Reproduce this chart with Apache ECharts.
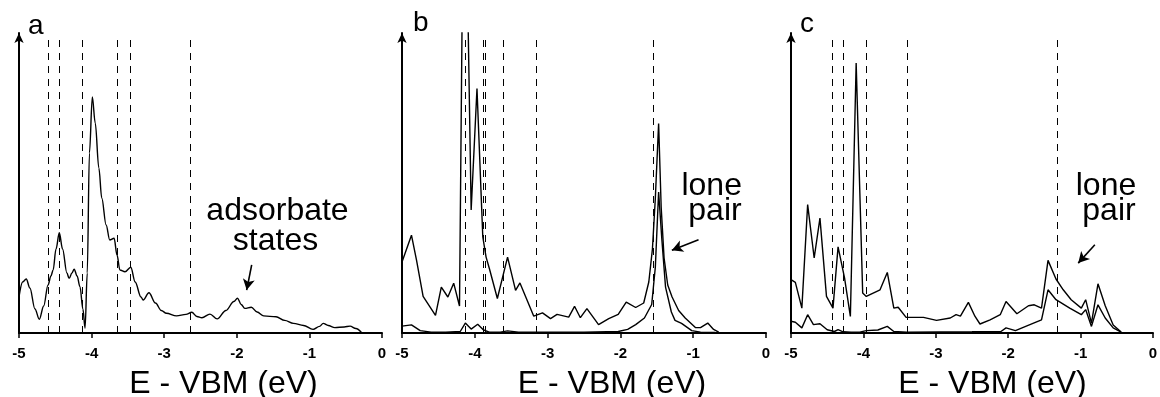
<!DOCTYPE html>
<html><head><meta charset="utf-8">
<script src="https://cdn.jsdelivr.net/npm/echarts@6/dist/echarts.min.js"></script>
<style>html,body{margin:0;padding:0;background:#fff}#c{width:1160px;height:397px}</style>
</head><body><div id="c"></div>
<script>
// ---- data ----
const panelLabels = ['a', 'b', 'c'];
const axisTitle = 'E - VBM (eV)';
const xTickValues = [-5, -4, -3, -2, -1, 0];
const xTickLabels = ['-5', '-4', '-3', '-2', '-1', '0'];

// panel a: single PDOS curve
const aX = [-5.00,-4.95,-4.90,-4.85,-4.78,-4.72,-4.66,-4.60,-4.56,-4.53,-4.49,-4.445,-4.40,-4.34,-4.31,-4.27,-4.24,-4.20,-4.16,-4.12,-4.09,-4.06,-4.03,-3.99,-3.95,-3.90,-3.86,-3.80,-3.75,-3.69,-3.65,-3.61,-3.54,-3.46,-3.40,-3.32,-3.29,-3.21,-3.12,-3.04,-2.97,-2.83,-2.70,-2.62,-2.55,-2.48,-2.37,-2.27,-2.15,-2.04,-1.99,-1.94,-1.89,-1.80,-1.72,-1.63,-1.46,-1.34,-1.22,-1.08,-0.95,-0.86,-0.81,-0.74,-0.65,-0.52,-0.44,-0.36,-0.28];
const aY = [12,17,18,15,8,4.6,9,16,19,21,28,33.4,28,20,18.2,20,21.3,19,15.4,8,1.6,20,60,78.7,70,55,45,36,31,31.6,26,21,20.4,21.9,17,12,11,13.4,10,7.5,6.6,5.7,6.2,6.9,5.5,5.1,6.3,4.7,7.5,10.5,11.6,9.5,8.2,8.6,7,5.7,5.4,4.2,3.2,2.5,1.2,2.2,3.2,2.5,1.8,2.0,2.3,1.5,0.1];
const aDash = [-4.6, -4.45, -4.13, -3.65, -3.47, -2.645];

// panel b: total (upper) and lone-pair projected (lower)
const bX1 = [-5.00,-4.87,-4.80,-4.71,-4.54,-4.46,-4.37,-4.29,-4.21,-4.165,-4.11,-4.05,-3.97,-3.89,-3.845,-3.80,-3.69,-3.55,-3.44,-3.38,-3.19,-3.07,-2.96,-2.87,-2.71,-2.63,-2.55,-2.46,-2.30,-2.16,-2.03,-1.92,-1.79,-1.68,-1.61,-1.56,-1.52,-1.475,-1.44,-1.40,-1.35,-1.29,-1.20,-1.11,-0.97,-0.90,-0.80,-0.72,-0.65];
const bY1 = [23.7,32.6,24.2,12.2,5.9,15.3,12,16.6,9,130,130,41,81.5,32,25.3,21.5,11.5,25.3,14.2,16.7,5.6,6.7,4.8,6.2,5.3,8.9,5.1,8.1,2.8,4.8,6.2,10.3,8.5,10,17,28,45,69.8,42,25,16,12,7.5,5,1.8,1.8,3.3,1.2,0.3];
const bX2 = [-5.00,-4.87,-4.75,-4.60,-4.40,-4.20,-4.13,-4.05,-3.96,-3.88,-3.80,-3.65,-3.55,-3.40,-3.00,-2.50,-2.03,-1.90,-1.79,-1.67,-1.57,-1.52,-1.475,-1.43,-1.38,-1.30,-1.25,-1.16,-1.02,-0.90,-0.70];
const bY2 = [2.3,2.7,0.8,0.3,0.3,0.5,3.3,1.3,2.9,1,0.3,0.3,0.7,0.3,0.3,0.3,0.5,1.2,2.8,5,9.5,22,47,31,15.3,7,4.2,3.2,0.8,0.3,0.2];
const bDash = [-5.0, -4.99, -4.13, -3.89, -3.86, -3.61, -3.16, -1.55];

// panel c: total (upper) and lone-pair projected (lower)
const cX1 = [-5.00,-4.94,-4.85,-4.77,-4.68,-4.60,-4.51,-4.42,-4.35,-4.26,-4.18,-4.10,-4.01,-3.96,-3.77,-3.67,-3.58,-3.52,-3.41,-3.17,-2.99,-2.80,-2.72,-2.66,-2.55,-2.46,-2.39,-2.25,-2.11,-2.03,-1.88,-1.72,-1.64,-1.54,-1.45,-1.34,-1.24,-1.13,-0.99,-0.93,-0.85,-0.76,-0.66,-0.55,-0.44];
const cY1 = [17.8,16.9,8.3,42.8,25,38.3,12.2,8.3,28.7,18.3,5.5,90,13.3,12.2,14.4,20.2,8.3,8.6,5.2,5.2,4.2,5.0,6.1,5.6,10.2,5.6,3,4.4,6.1,10.5,6.4,9.1,9.4,8.3,24.2,18,14.4,11.1,8.3,11.1,3.3,16.4,9.1,2.7,0.3];
const cX2 = [-5.00,-4.94,-4.85,-4.77,-4.69,-4.60,-4.50,-4.40,-4.35,-4.28,-4.17,-4.05,-3.96,-3.80,-3.67,-3.58,-3.40,-2.50,-2.10,-2.03,-1.90,-1.65,-1.54,-1.45,-1.34,-1.15,-0.99,-0.93,-0.85,-0.76,-0.66,-0.55,-0.44];
const cY2 = [3.9,3.6,1.7,6.1,2.8,3.1,1.1,0.5,1.1,0.4,0.3,0.3,0.8,1,2.2,0.5,0.3,0.4,0.5,1.7,0.8,3.3,4.4,14.4,11.1,8.3,6.1,7.8,2.2,9.4,5,1.7,0.3];
const cDash = [-4.43, -4.28, -3.96, -3.39, -1.32];

// annotations (text) and arrows [x0,y0,x1,y1] in data units
const annA = ['adsorbate', 'states'];
const annBC = ['lone', 'pair'];
const arrowA = [-1.795, 22.7, -1.864, 14.3];
const arrowB = [-0.927, 31.1, -1.293, 27.6];
const arrowC = [-0.803, 29.4, -1.033, 23.3];

// ---- chart ----
const FONT = 'Liberation Sans';
const zip = (xs, ys) => xs.map((x, i) => [x, ys[i]]);
const grids = [
  {left: 19, top: 33, width: 363, height: 300, containLabel: false, outerBoundsMode: 'none'},
  {left: 402, top: 33, width: 364, height: 300, containLabel: false, outerBoundsMode: 'none'},
  {left: 791, top: 33, width: 362, height: 300, containLabel: false, outerBoundsMode: 'none'}
];
const namePad = [46, 56, 41];
const xAxes = grids.map((g, i) => ({
  type: 'value', gridIndex: i, min: -5, max: 0, interval: 1,
  name: axisTitle, nameLocation: 'middle', nameGap: 35,
  nameTextStyle: {fontFamily: FONT, fontSize: 32, color: '#000', padding: [0, 0, 0, namePad[i]]},
  axisLine: {onZero: false, lineStyle: {color: '#000', width: 2}},
  axisTick: {show: true, length: 5, lineStyle: {color: '#000', width: 1.5}},
  axisLabel: {show: false},
  splitLine: {show: false}
}));
const yAxes = grids.map((g, i) => ({
  type: 'value', gridIndex: i, min: 0, max: 100, position: 'left',
  axisLine: {show: true, onZero: false, symbol: ['none', 'arrow'], symbolSize: [7, 10], lineStyle: {color: '#000', width: 2}},
  axisTick: {show: false}, axisLabel: {show: false}, splitLine: {show: false}
}));

function dashLines(xs) {
  return {
    silent: true, symbol: ['none', 'none'], label: {show: false},
    lineStyle: {color: '#000', width: 1, type: [7, 6]},
    data: xs.map(x => [{coord: [x, 0]}, {coord: [x, 97.7]}])
  };
}
function arrowLine(a) {
  return {
    silent: true, symbol: ['none', 'arrow'], symbolSize: [9, 11], label: {show: false},
    lineStyle: {color: '#000', width: 1.6, type: 'solid'},
    data: [[{coord: [a[0], a[1]]}, {coord: [a[2], a[3]]}]]
  };
}
const lineBase = {type: 'line', showSymbol: false, animation: false, clip: true,
  lineStyle: {color: '#000', width: 1.4}, itemStyle: {color: '#000'}};

const series = [
  Object.assign({}, lineBase, {xAxisIndex: 0, yAxisIndex: 0, data: zip(aX, aY), smooth: 0.35, smoothMonotone: 'x', markLine: dashLines(aDash)}),
  Object.assign({}, lineBase, {xAxisIndex: 0, yAxisIndex: 0, data: [], markLine: arrowLine(arrowA)}),
  Object.assign({}, lineBase, {xAxisIndex: 1, yAxisIndex: 1, data: zip(bX1, bY1), markLine: dashLines(bDash)}),
  Object.assign({}, lineBase, {xAxisIndex: 1, yAxisIndex: 1, data: zip(bX2, bY2), markLine: arrowLine(arrowB)}),
  Object.assign({}, lineBase, {xAxisIndex: 2, yAxisIndex: 2, data: zip(cX1, cY1), markLine: dashLines(cDash)}),
  Object.assign({}, lineBase, {xAxisIndex: 2, yAxisIndex: 2, data: zip(cX2, cY2), markLine: arrowLine(arrowC)})
];

const txt = (text, x, y, size, align, weight) => ({
  type: 'text', x: x, y: y, silent: true,
  style: {text: text, font: (weight || 'normal') + ' ' + size + 'px "Liberation Sans"', fill: '#000', align: align || 'center', verticalAlign: 'middle'}
});
const graphic = [
  txt(panelLabels[0], 28, 26, 28, 'left'),
  txt(panelLabels[1], 413, 23, 28, 'left'),
  txt(panelLabels[2], 800, 24, 28, 'left'),
  txt(annA[0], 277.5, 211, 32),
  txt(annA[1], 275.5, 241, 32),
  txt(annBC[0], 711.7, 186, 32),
  txt(annBC[1], 715, 211, 32),
  txt(annBC[0], 1106, 186, 32),
  txt(annBC[1], 1109, 211, 32)
];

const chart = echarts.init(document.getElementById('c'), null, {renderer: 'canvas'});
chart.setOption({
  animation: false,
  backgroundColor: '#fff',
  grid: grids,
  xAxis: xAxes,
  yAxis: yAxes,
  series: series
});
// tick labels placed through each axis's own scale
grids.forEach((g, i) => {
  xTickValues.forEach((v, k) => {
    const p = chart.convertToPixel({xAxisIndex: i, yAxisIndex: i}, [v, 0]);
    graphic.push(txt(xTickLabels[k], p[0], p[1] + 21, 15, 'center', 'bold'));
  });
});
chart.setOption({graphic: graphic});
</script></body></html>
